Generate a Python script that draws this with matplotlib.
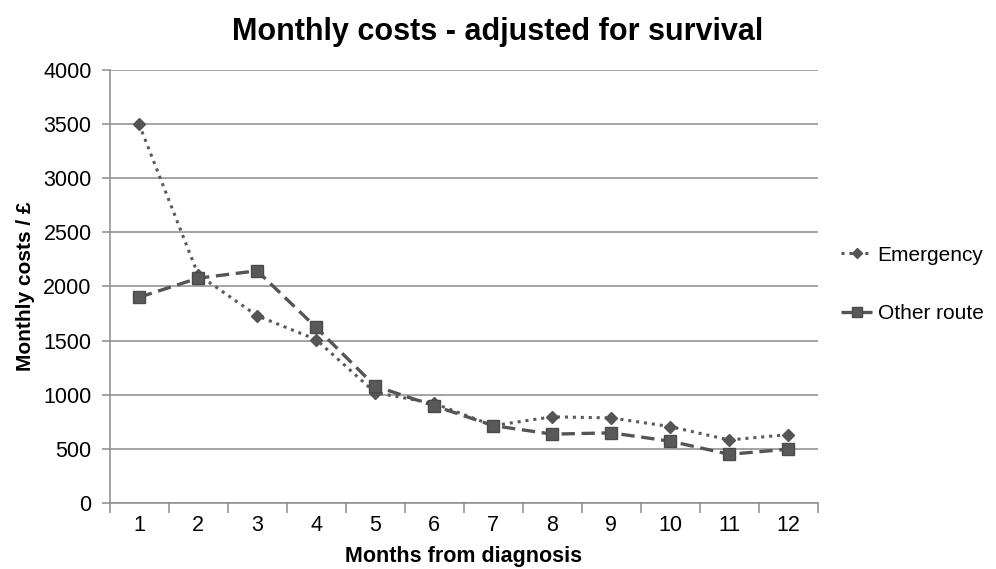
import matplotlib
matplotlib.use("Agg")
import matplotlib.pyplot as plt
from matplotlib.ticker import FixedLocator

plt.rcParams['font.family'] = ['Liberation Sans', 'DejaVu Sans']

months = [1, 2, 3, 4, 5, 6, 7, 8, 9, 10, 11, 12]
emergency = [3500, 2110, 1730, 1510, 1020, 920, 715, 796, 786, 706, 582, 632]
other_route = [1900, 2077, 2145, 1622, 1080, 898, 715, 636, 648, 571, 450, 497]
yticks = [0, 500, 1000, 1500, 2000, 2500, 3000, 3500, 4000]

fig = plt.figure(figsize=(9.96, 5.69), dpi=100)
ax = fig.add_axes([0.110, 0.116, 0.711, 0.761])

grid_c = '#8c8c8c'
ax.set_axisbelow(True)
ax.yaxis.grid(True, color=grid_c, linewidth=1.1)

l1, = ax.plot(months, emergency, linestyle=(0, (1, 1.6)), color='#5a5a5a', linewidth=2.2,
              marker='D', markersize=6.5, markerfacecolor='#555555', markeredgecolor='#555555',
              label='Emergency')
l2, = ax.plot(months, other_route, linestyle=(0, (4, 2)), color='#555555', linewidth=2.4,
              marker='s', markersize=9, markerfacecolor='#595959', markeredgecolor='#4a4a4a',
              label='Other route')

ax.set_xlim(0.5, 12.5)
ax.set_ylim(0, 4000)
ax.set_yticks(yticks)
ax.set_xticks(months)
ax.xaxis.set_minor_locator(FixedLocator([m + 0.5 for m in range(0, 13)]))
ax.tick_params(axis='x', which='major', length=0, labelsize=15.5, pad=9, colors='black')
ax.tick_params(axis='x', which='minor', length=7, color=grid_c, width=1.1)
ax.tick_params(axis='y', which='major', length=6, color=grid_c, width=1.1, labelsize=15.5, pad=7)

for s in ['top', 'right']:
    ax.spines[s].set_visible(False)
for s in ['left', 'bottom']:
    ax.spines[s].set_color(grid_c)
    ax.spines[s].set_linewidth(1.1)

ax.set_xlabel('Months from diagnosis', fontsize=15.5, fontweight='bold', labelpad=7)
ax.set_ylabel('Monthly costs / £', fontsize=15, fontweight='bold', labelpad=6)
fig.text(0.5, 0.944, 'Monthly costs - adjusted for survival', ha='center', va='center',
         fontsize=22, fontweight='bold')

fig.legend(handles=[l1, l2], loc='center left', bbox_to_anchor=(0.832, 0.5),
           frameon=False, fontsize=15, handlelength=1.5, handletextpad=0.25,
           labelspacing=1.9, markerscale=0.85, borderaxespad=0.2)

fig.savefig('out.png', dpi=100, facecolor='white')
